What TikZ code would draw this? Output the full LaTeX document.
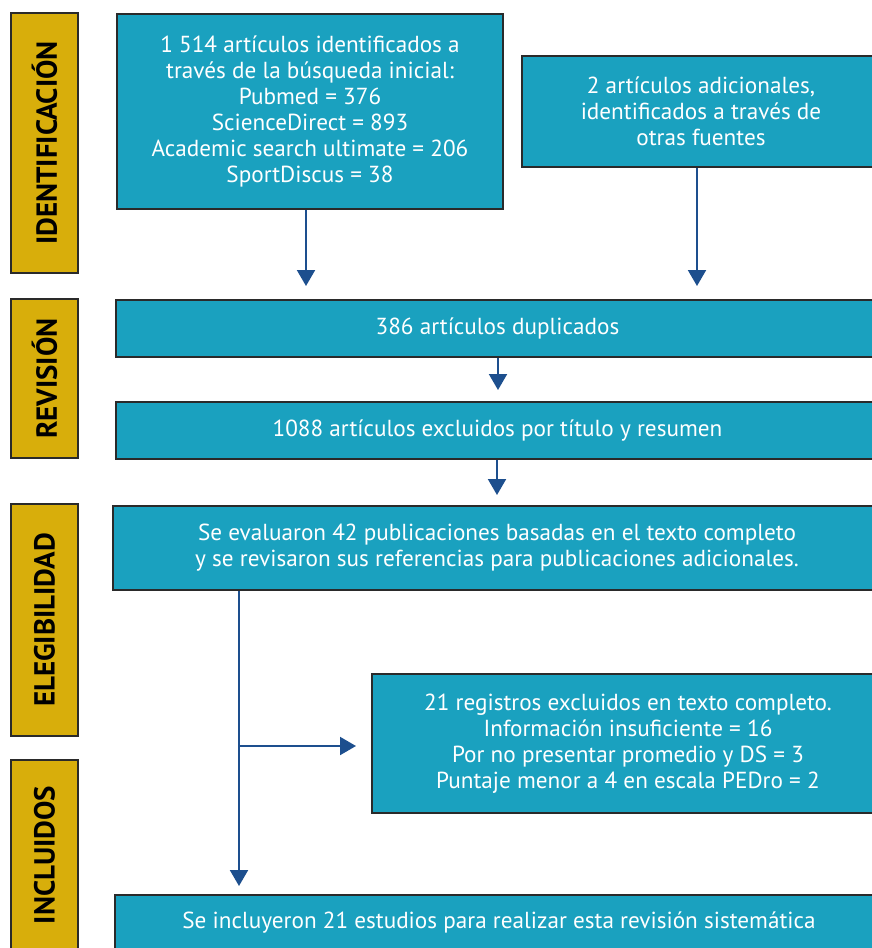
\documentclass[tikz,border=0pt]{standalone}
\usepackage{fontspec}
\setmainfont{PT Sans}
\usepackage{tikz}
\usepackage{xcolor}
\usetikzlibrary{arrows.meta, positioning, shapes}

\definecolor{bleuBoite}{HTML}{1AA1BF}
\definecolor{orEtiquette}{HTML}{D8AE0B}
\definecolor{bleuFleche}{HTML}{1D4F8E}
\definecolor{bordGris}{HTML}{2A2A2A}

\begin{document}
\begin{tikzpicture}[
				% Styles des boites
				boite/.style={draw=bordGris, fill=bleuBoite, line width=1.1pt, text=white, align=center, font=\fontsize{13.2}{14.8}\selectfont, inner sep=0pt},
				etiquette/.style={draw=bordGris, fill=orEtiquette, line width=1.1pt, rotate=90, minimum height=1.34cm, font=\fontsize{16.5}{18}\selectfont\bfseries, inner sep=0pt},
				fleche/.style={-{Triangle[width=0.36cm, length=0.32cm]}, bleuFleche, line width=1.15pt},
				]
				
				\useasboundingbox (0,0) rectangle (17.44,-18.96);
				\clip (0,0) rectangle (17.44,-18.96);
				
				% Etiquettes de gauche
				\node[etiquette, minimum width=5.2cm] (etiqIdent) at (0.89,-2.86) {IDENTIFICACIÓN};
				\node[etiquette, minimum width=3.18cm] (etiqRev) at (0.89,-7.57) {REVISIÓN};
				\node[etiquette, minimum width=4.64cm] (etiqEleg) at (0.89,-12.4) {ELEGIBILIDAD};
				\node[etiquette, minimum width=3.8cm] (etiqIncl) at (0.89,-17.1) {INCLUIDOS};
				
				
				\node[boite, minimum width=7.72cm, minimum height=3.9cm] (busqueda) at (6.2,-2.23) {1 514 artículos identificados a\\ través de la búsqueda inicial:\\ Pubmed = 376\\ ScienceDirect = 893\\ Academic search ultimate = 206\\ SportDiscus = 38};
				\node[boite, minimum width=7.16cm, minimum height=2.22cm] (otras) at (14.02,-2.23) {2 artículos adicionales,\\ identificados a través de\\ otras fuentes};
				\node[boite, minimum width=15.26cm, minimum height=1.14cm] (duplicados) at (9.95,-6.57) {386 artículos duplicados};
				\node[boite, minimum width=15.26cm, minimum height=1.14cm] (excluidos) at (9.95,-8.61) {1088 artículos excluidos por título y resumen};
				\node[boite, minimum width=15.36cm, minimum height=1.68cm] (evaluados) at (9.94,-10.96) {Se evaluaron 42 publicaciones basadas en el texto completo\\ y se revisaron sus referencias para publicaciones adicionales.};
				\node[boite, minimum width=10.24cm, minimum height=2.78cm] (registros) at (12.56,-14.87) {21 registros excluidos en texto completo.\\ Información insuficiente = 16\\ Por no presentar promedio y DS = 3\\ Puntaje menor a 4 en escala PEDro = 2};
				\node[boite, minimum width=15.36cm, minimum height=1.1cm] (incluidos) at (9.98,-18.45) {Se incluyeron 21 estudios para realizar esta revisión sistemática};
				
				
				\coordinate (finA) at (6.12,-5.72);
				\coordinate (finB) at (13.94,-5.72);
				\coordinate (finC) at (9.96,-7.8);
				\coordinate (finD) at (9.94,-9.9);
				\coordinate (finE) at (4.78,-17.72);
				\coordinate (embranchement) at (4.78,-14.92);
				\coordinate (finF) at (7.12,-14.92);
				
				\draw[fleche] (busqueda.south -| finA) -- (finA);
				\draw[fleche] (otras.south -| finB) -- (finB);
				\draw[fleche] (duplicados.south -| finC) -- (finC);
				\draw[fleche] (excluidos.south -| finD) -- (finD);
				\draw[fleche] (evaluados.south -| finE) -- (finE);
				\draw[fleche] (embranchement) -- (finF);
				
			\end{tikzpicture}
\end{document}
